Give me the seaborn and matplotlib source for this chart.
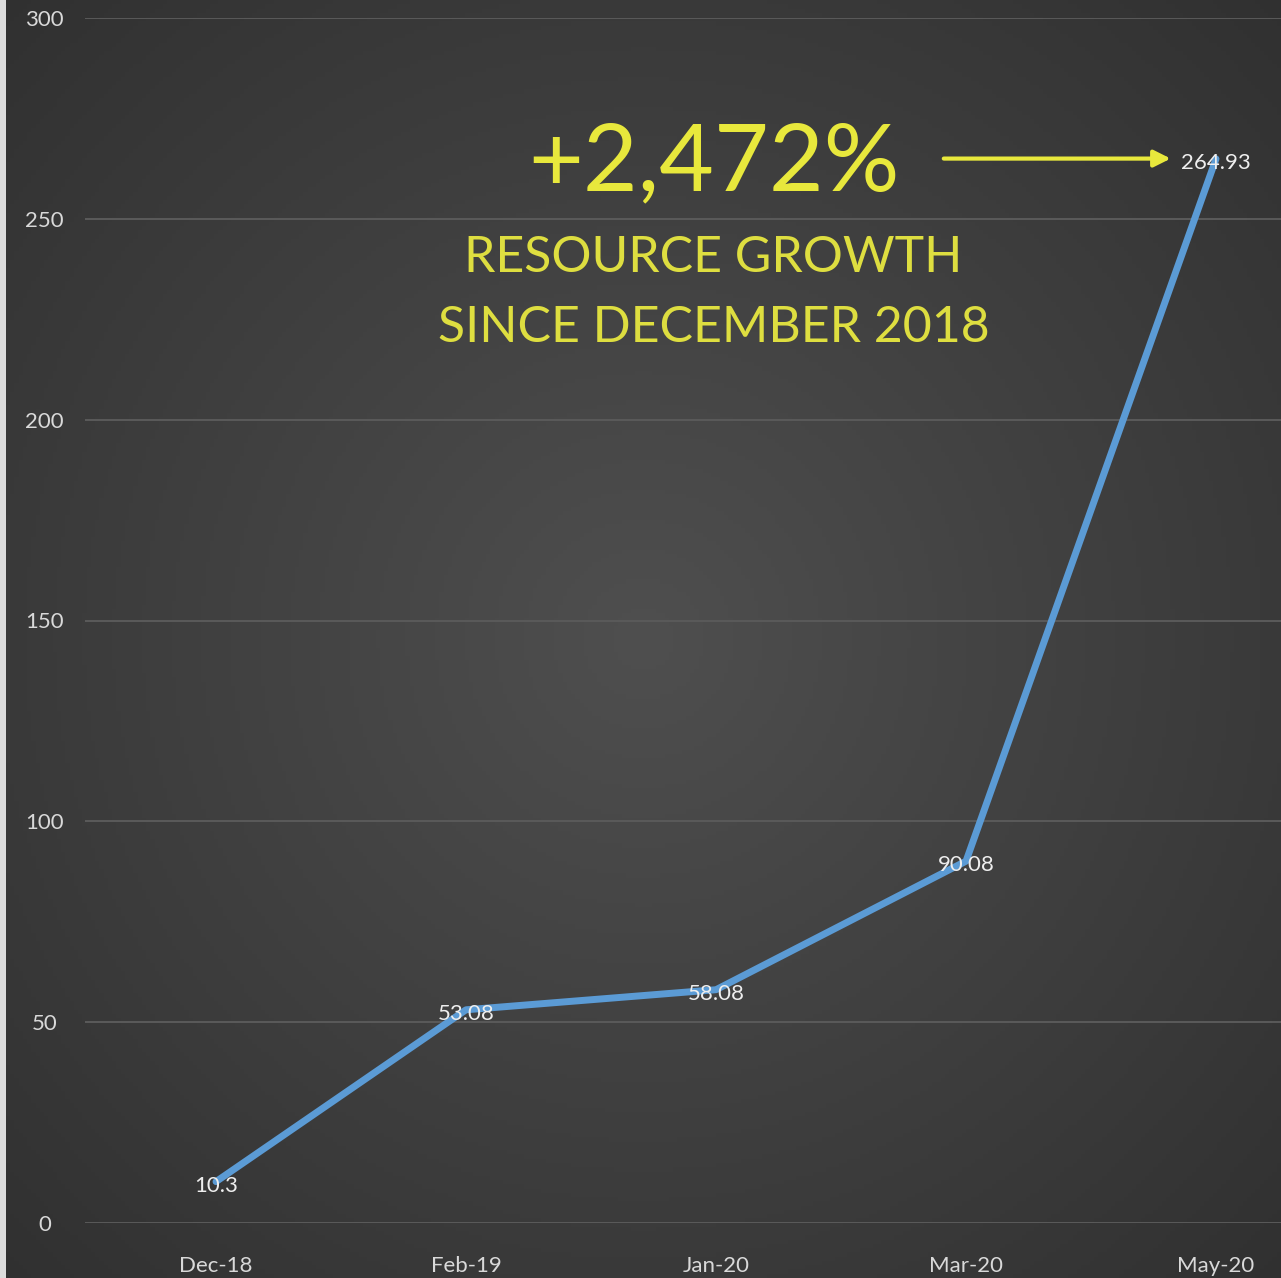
import numpy as np
import pandas as pd
import matplotlib
matplotlib.use("Agg")
import matplotlib.pyplot as plt
import seaborn as sns

months = ["Dec-18", "Feb-19", "Jan-20", "Mar-20", "May-20"]
values = [10.3, 53.08, 58.08, 90.08, 264.93]
value_labels = ["10.3", "53.08", "58.08", "90.08", "264.93"]
y_ticks = [0, 50, 100, 150, 200, 250, 300]
headline = "+2,472%"
subline = "RESOURCE GROWTH\nSINCE DECEMBER 2018"

sns.set_theme(style="dark")
plt.rcParams['font.family'] = ['Lato', 'DejaVu Sans']

W, H = 1281, 1278
fig = plt.figure(figsize=(W / 100, H / 100), dpi=100)
fig.patch.set_facecolor("#dcdcdc")

# background radial gradient
bg = fig.add_axes([6 / W, 0, 1 - 6 / W, 1])
yy, xx = np.mgrid[0:1:300j, 0:1:300j]
r = np.sqrt((xx - 0.5) ** 2 + (yy - 0.5) ** 2) / 0.7071
img = 0.31 - 0.12 * r
bg.imshow(np.dstack([img, img, img]), extent=[0, 1, 0, 1], aspect="auto", origin="lower")
bg.set_axis_off()

df = pd.DataFrame({"month": months, "value": values})
ax = fig.add_axes([85 / W, (H - 1223) / H, 1 - 85 / W, (1223 - 18) / H])
ax.patch.set_alpha(0)
sns.lineplot(data=df, x="month", y="value", ax=ax, color="#5b9bd5", linewidth=5, sort=False)
ax.set_ylim(0, 300)
ax.set_xlim(-0.524, 4.26)
ax.set_yticks(y_ticks)
ax.set_xlabel("")
ax.set_ylabel("")
ax.grid(axis="y", color="#5a5a5a", linewidth=1.4)
ax.grid(axis="x", visible=False)
for s in ax.spines.values():
    s.set_visible(False)
ax.tick_params(axis="y", colors="#d9d9d9", labelsize=16, length=0, pad=29)
ax.tick_params(axis="x", colors="#d9d9d9", labelsize=16, length=0, pad=24)
for lab in ax.get_yticklabels():
    lab.set_horizontalalignment("center")

for i, (v, t) in enumerate(zip(values, value_labels)):
    ax.text(i, v - 1, t, ha="center", va="center", color="#eeeeee", fontsize=16)

ax.text(1.99, 263.5, headline, ha="center", va="center", color="#e8e83c", fontsize=68)
ax.text(1.99, 231.5, subline, ha="center", va="center", color="#dede40", fontsize=36,
        linespacing=1.65)
ax.annotate("", xy=(3.83, 265), xytext=(2.9, 265),
            arrowprops=dict(arrowstyle="-|>", color="#e8e83c", lw=3, mutation_scale=25))

fig.savefig("out.png", dpi=100, facecolor=fig.get_facecolor())
